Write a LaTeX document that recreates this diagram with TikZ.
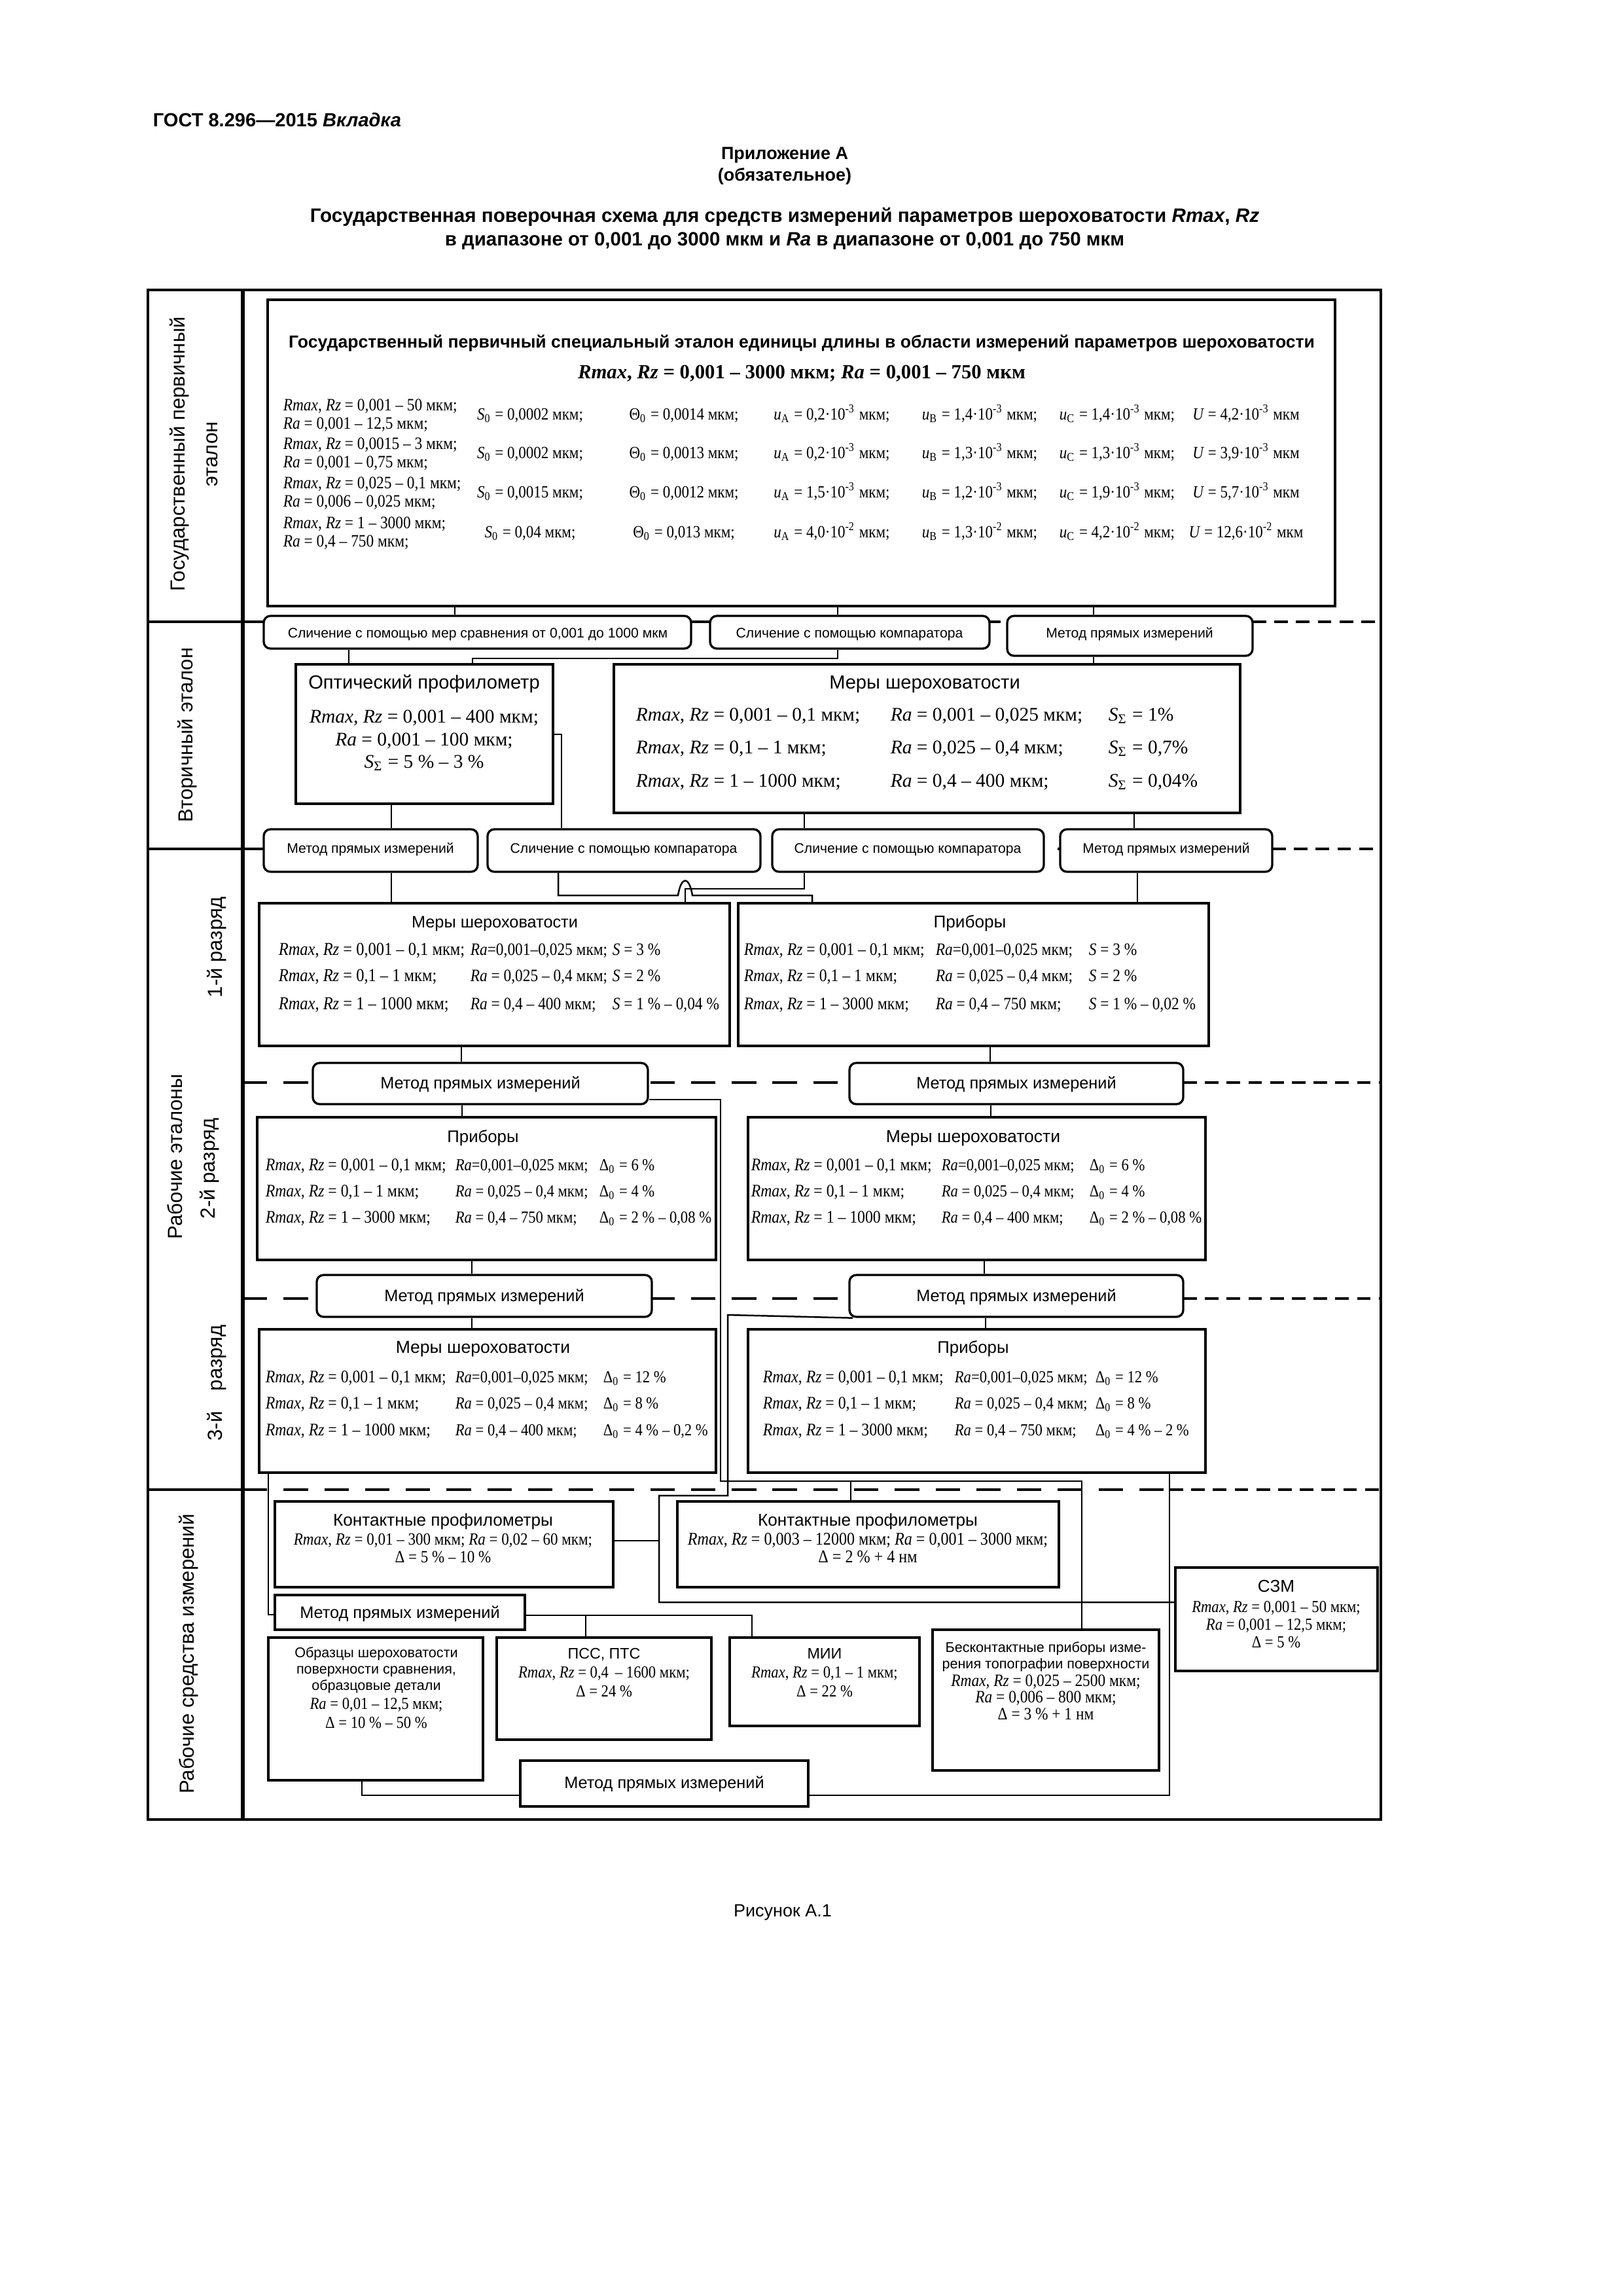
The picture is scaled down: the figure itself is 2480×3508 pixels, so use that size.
\documentclass[tikz,border=0pt]{standalone}
\usepackage{fontspec}
\setmainfont{Liberation Sans}
\newfontfamily\ser{Liberation Serif}
\newfontfamily\sern[FakeStretch=0.88]{Liberation Serif}
\usetikzlibrary{fit}
\newcommand\Rmz{\textit{Rmax}, \textit{Rz}}
\newcommand\Raa{\textit{Ra}}
\newcommand\Dz{Δ\textsubscript{0}}
\newcommand\SSig{\textit{S}\textsubscript{Σ}}
\newcommand\fs[1]{\fontsize{#1}{#1}\selectfont}
\begin{document}
\begin{tikzpicture}[x=0.2409pt, y=-0.2409pt,
  conn/.style={line width=0.6pt},
  frm/.style={line width=0.9pt},
  sbox/.style={draw, line width=1pt, fill=white, inner sep=0pt},
  rbox/.style={draw, line width=0.8pt, rounded corners=2.5pt, fill=white, inner sep=0pt},
  dline/.style={line width=0.8pt, dash pattern=on 9pt off 6pt},
  fdline/.style={line width=0.8pt, dash pattern=on 5pt off 3pt},
  tx/.style={inner sep=0pt, text height=0.72em, text depth=0.22em},
  txl/.style={tx, anchor=west},
  lbl/.style={tx, rotate=90, font=\fs{7.5}},
  rt/.style={tx, font=\fs{5.1}},
  mt/.style={tx, font=\fs{6.1}},
  sv/.style={tx, font={\sern\fs{6.3}}},
  ca/.style={txl, font={\sern\fs{6.7}}},
  cb/.style={txl, font={\sern\fs{6.4}}},
  cc/.style={txl, font={\sern\fs{6.5}}},
  cd/.style={txl, font={\sern\fs{6.2}}},
  sw/.style={tx, font={\sern\fs{6.2}}}]
\fill[white] (0,0) rectangle (2480,3508);
\useasboundingbox (0,0) rectangle (2480,3508);

% header
\node[txl, font=\fs{7}\bfseries] (hd) at (233,183) {ГОСТ 8.296—2015 \textit{Вкладка}};
\node[tx, font=\fs{6.5}\bfseries] (app) at (1199,233) {Приложение А};
\node[tx, font=\fs{6.5}\bfseries] (app2) at (1199,266) {(обязательное)};
\node[tx, font=\fs{7.15}\bfseries] (ttl1) at (1199,329) {Государственная поверочная схема для средств измерений параметров шероховатости \textit{Rmax}, \textit{Rz}};
\node[tx, font=\fs{7.1}\bfseries] (ttl2) at (1199,365) {в диапазоне от 0,001 до 3000 мкм и \textit{Ra} в диапазоне от 0,001 до 750 мкм};
\node[tx, font=\fs{6.5}] (fig) at (1196,2918) {Рисунок А.1};

% frame
\draw[frm] (226,443) rectangle (2110,2780);
\draw[line width=1.3pt] (371,443) -- (371,2780);
\draw[frm] (226,950) -- (371,950);
\draw[frm] (226,1297) -- (371,1297);
\draw[frm] (226,2276) -- (371,2276);
\draw[dline] (371,950) -- (1914,950);
\draw[fdline] (1914,950) -- (2110,950);
\draw[dline] (371,1297) -- (1944,1297);
\draw[fdline] (1944,1297) -- (2110,1297);
\draw[dline] (371,1654) -- (1808,1654);
\draw[fdline] (1808,1654) -- (2110,1654);
\draw[dline] (371,1984) -- (1808,1984);
\draw[fdline] (1808,1984) -- (2110,1984);
\draw[dline] (371,2276) -- (1787,2276);
\draw[fdline] (1787,2276) -- (2110,2276);

% side labels
\node[lbl] (lab1a) at (272,694) {Государственный первичный};
\node[lbl] (lab1b) at (322,694) {эталон};
\node[lbl] (lab2) at (284,1123) {Вторичный эталон};
\node[lbl] (lab3) at (268,1767) {Рабочие эталоны};
\node[lbl] (lab3a) at (329,1447) {1-й разряд};
\node[lbl] (lab3b) at (318,1785) {2-й разряд};
\node[lbl] (lab3c) at (329,2113) {3-й\quad разряд};
\node[lbl] (lab4) at (286,2527) {Рабочие средства измерений};

% ---------- boxes ----------
\node[sbox, fit={(409,458) (2040,926)}] (prim) {};
\node[rbox, fit={(403,941) (1056,991)}] (r1) {};
\node[rbox, fit={(1085,941) (1512,991)}] (r2) {};
\node[rbox, fit={(1539,941) (1914,1002)}] (r3) {};
\node[sbox, fit={(452,1015) (845,1228)}] (opt) {};
\node[sbox, fit={(938,1015) (1895,1242)}] (m2) {};
\node[rbox, fit={(403,1267) (730,1332)}] (ra) {};
\node[rbox, fit={(745,1267) (1162,1332)}] (rb) {};
\node[rbox, fit={(1180,1267) (1595,1332)}] (rc) {};
\node[rbox, fit={(1620,1267) (1944,1332)}] (rd) {};
\node[sbox, fit={(396,1380) (1115,1598)}] (m1) {};
\node[sbox, fit={(1128,1380) (1847,1598)}] (p1) {};
\node[rbox, fit={(478,1624) (990,1687)}] (l2) {};
\node[rbox, fit={(1298,1624) (1808,1687)}] (q2) {};
\node[sbox, fit={(393,1707) (1094,1925)}] (p2) {};
\node[sbox, fit={(1143,1707) (1842,1925)}] (mb) {};
\node[rbox, fit={(484,1948) (996,2012)}] (l3) {};
\node[rbox, fit={(1298,1948) (1808,2012)}] (q3) {};
\node[sbox, fit={(396,2031) (1094,2250)}] (m3) {};
\node[sbox, fit={(1143,2031) (1842,2250)}] (p3) {};
\node[sbox, fit={(420,2294) (937,2425)}] (k1) {};
\node[sbox, fit={(1035,2294) (1618,2425)}] (k2) {};
\node[sbox, fit={(420,2437) (802,2490)}] (wm) {};
\node[sbox, fit={(410,2502) (738,2720)}] (obr) {};
\node[sbox, fit={(759,2502) (1087,2658)}] (pss) {};
\node[sbox, fit={(1115,2502) (1405,2637)}] (mii) {};
\node[sbox, fit={(1425,2490) (1771,2705)}] (bes) {};
\node[sbox, fit={(795,2690) (1235,2760)}] (wm2) {};

% ---------- connectors ----------
\draw[conn] (695,0 |- prim.south) -- (695,0 |- r1.north);
\draw[conn] (1280,0 |- prim.south) -- (1280,0 |- r2.north);
\draw[conn] (1671,0 |- prim.south) -- (1671,0 |- r3.north);
\draw[conn] (533,0 |- r1.south) -- (533,0 |- opt.north);
\draw[conn] (1280,0 |- r2.south) -- (1280,1006) -- (722,1006) -- (722,0 |- opt.north);
\draw[conn] (1671,0 |- r3.south) -- (1671,0 |- m2.north);
\draw[conn] (598,0 |- opt.south) -- (598,0 |- ra.north);
\draw[conn] (opt.east |- 0,1122) -- (858,1122) -- (858,0 |- rb.north);
\draw[conn] (1229,0 |- m2.south) -- (1229,0 |- rc.north);
\draw[conn] (1733,0 |- m2.south) -- (1733,0 |- rd.north);
\draw[conn] (598,0 |- ra.south) -- (598,0 |- m1.north);
\draw[conn] (1229,0 |- rc.south) -- (1229,1358) -- (1047,1358) -- (1047,0 |- m1.north);
\draw[conn] (853,0 |- rb.south) -- (853,1368) -- (1036,1368) .. controls (1041,1338) and (1053,1338) .. (1058,1368) -- (1241,1368) -- (1241,0 |- p1.north);
\draw[conn] (1738,0 |- rd.south) -- (1738,0 |- p1.north);
\draw[conn] (705,0 |- m1.south) -- (705,0 |- l2.north);
\draw[conn] (1513,0 |- p1.south) -- (1513,0 |- q2.north);
\draw[conn] (706,0 |- l2.south) -- (706,0 |- p2.north);
\draw[conn] (1514,0 |- q2.south) -- (1514,0 |- mb.north);
\draw[conn] (721,0 |- p2.south) -- (721,0 |- l3.north);
\draw[conn] (1504,0 |- mb.south) -- (1504,0 |- q3.north);
\draw[conn] (721,0 |- l3.south) -- (721,0 |- m3.north);
\draw[conn] (1506,0 |- q3.south) -- (1506,0 |- p3.north);
\draw[conn] (l2.east |- 0,1680) -- (1101,1680) -- (1101,2263) -- (1653,2263) -- (1653,0 |- bes.north);
\draw[conn] (1300,2263) -- (1300,0 |- k2.north);
\draw[conn] (1303,0 |- q3.south) -- (1112,2009) -- (1112,2285) -- (1007,2285) -- (1007,2448) -- (1796,2448);
\draw[conn] (k1.east |- 0,2354) -- (1007,2354);
\draw[conn] (410,0 |- m3.south) -- (410,2467) -- (wm.west |- 0,2467);
\draw[conn] (wm.east |- 0,2468) -- (1149,2468) -- (1149,0 |- mii.north);
\draw[conn] (895,2468) -- (895,0 |- pss.north);
\draw[conn] (553,0 |- obr.south) -- (553,2743) -- (wm2.west |- 0,2743);
\draw[conn] (1787,0 |- p3.south) -- (1787,2743) -- (wm2.east |- 0,2743);
\node[sbox, fit={(1796,2395) (2105,2553)}] (szm) {};

% ---------- rounded-box texts ----------
\node[rt] (r1t) at (730,964) {Сличение с помощью мер сравнения от 0,001 до 1000 мкм};
\node[rt] (r2t) at (1298,964) {Сличение с помощью компаратора};
\node[rt] (r3t) at (1726,964) {Метод прямых измерений};
\node[rt] (rat) at (566,1293) {Метод прямых измерений};
\node[rt] (rbt) at (953,1293) {Сличение с помощью компаратора};
\node[rt] (rct) at (1387,1293) {Сличение с помощью компаратора};
\node[rt] (rdt) at (1782,1293) {Метод прямых измерений};
\node[mt] (l2t) at (734,1653) {Метод прямых измерений};
\node[mt] (q2t) at (1553,1653) {Метод прямых измерений};
\node[mt] (l3t) at (740,1978) {Метод прямых измерений};
\node[mt] (q3t) at (1553,1978) {Метод прямых измерений};
\node[mt] (wmt) at (611,2462) {Метод прямых измерений};
\node[mt] (wm2t) at (1015,2722) {Метод прямых измерений};

% ---------- texts: primary ----------
\node[tx, font=\fs{6.4}\bfseries] (primT) at (1225,521) {Государственный первичный специальный эталон единицы длины в области измерений параметров шероховатости};
\node[tx, font={\ser\fs{7.4}\bfseries}] (primR) at (1225,568) {\Rmz{} = 0,001 – 3000 мкм; \Raa{} = 0,001 – 750 мкм};
\node[txl, font={\sern\fs{6.4}}] (pl1) at (432,617) {\Rmz{} = 0,001 – 50 мкм;};
\node[txl, font={\sern\fs{6.4}}] (pl2) at (432,645) {\Raa{} = 0,001 – 12,5 мкм;};
\node[txl, font={\sern\fs{6.4}}] (pl3) at (432,676) {\Rmz{} = 0,0015 – 3 мкм;};
\node[txl, font={\sern\fs{6.4}}] (pl4) at (432,704) {\Raa{} = 0,001 – 0,75 мкм;};
\node[txl, font={\sern\fs{6.4}}] (pl5) at (432,736) {\Rmz{} = 0,025 – 0,1 мкм;};
\node[txl, font={\sern\fs{6.4}}] (pl6) at (432,764) {\Raa{} = 0,006 – 0,025 мкм;};
\node[txl, font={\sern\fs{6.4}}] (pl7) at (432,797) {\Rmz{} = 1 – 3000 мкм;};
\node[txl, font={\sern\fs{6.4}}] (pl8) at (432,825) {\Raa{} = 0,4 – 750 мкм;};
% row 1
\node[sv] (pa1) at (810,631) {\textit{S}\textsubscript{0} = 0,0002 мкм;};
\node[sv] (pb1) at (1045,631) {Θ\textsubscript{0} = 0,0014 мкм;};
\node[sv] (pc1) at (1271,631) {\textit{u}\textsubscript{A} = 0,2·10\textsuperscript{-3} мкм;};
\node[sv] (pd1) at (1497,631) {\textit{u}\textsubscript{B} = 1,4·10\textsuperscript{-3} мкм;};
\node[sv] (pe1) at (1707,631) {\textit{u}\textsubscript{C} = 1,4·10\textsuperscript{-3} мкм;};
\node[sv] (pf1) at (1904,631) {\textit{U} = 4,2·10\textsuperscript{-3} мкм};
% row 2
\node[sv] (pa2) at (810,690) {\textit{S}\textsubscript{0} = 0,0002 мкм;};
\node[sv] (pb2) at (1045,690) {Θ\textsubscript{0} = 0,0013 мкм;};
\node[sv] (pc2) at (1271,690) {\textit{u}\textsubscript{A} = 0,2·10\textsuperscript{-3} мкм;};
\node[sv] (pd2) at (1497,690) {\textit{u}\textsubscript{B} = 1,3·10\textsuperscript{-3} мкм;};
\node[sv] (pe2) at (1707,690) {\textit{u}\textsubscript{C} = 1,3·10\textsuperscript{-3} мкм;};
\node[sv] (pf2) at (1904,690) {\textit{U} = 3,9·10\textsuperscript{-3} мкм};
% row 3
\node[sv] (pa3) at (810,750) {\textit{S}\textsubscript{0} = 0,0015 мкм;};
\node[sv] (pb3) at (1045,750) {Θ\textsubscript{0} = 0,0012 мкм;};
\node[sv] (pc3) at (1271,750) {\textit{u}\textsubscript{A} = 1,5·10\textsuperscript{-3} мкм;};
\node[sv] (pd3) at (1497,750) {\textit{u}\textsubscript{B} = 1,2·10\textsuperscript{-3} мкм;};
\node[sv] (pe3) at (1707,750) {\textit{u}\textsubscript{C} = 1,9·10\textsuperscript{-3} мкм;};
\node[sv] (pf3) at (1904,750) {\textit{U} = 5,7·10\textsuperscript{-3} мкм};
% row 4
\node[sv] (pa4) at (810,811) {\textit{S}\textsubscript{0} = 0,04 мкм;};
\node[sv] (pb4) at (1045,811) {Θ\textsubscript{0} = 0,013 мкм;};
\node[sv] (pc4) at (1271,811) {\textit{u}\textsubscript{A} = 4,0·10\textsuperscript{-2} мкм;};
\node[sv] (pd4) at (1497,811) {\textit{u}\textsubscript{B} = 1,3·10\textsuperscript{-2} мкм;};
\node[sv] (pe4) at (1707,811) {\textit{u}\textsubscript{C} = 4,2·10\textsuperscript{-2} мкм;};
\node[sv] (pf4) at (1904,811) {\textit{U} = 12,6·10\textsuperscript{-2} мкм};

% ---------- secondary ----------
\node[tx, font=\fs{7}] (optT) at (648,1042) {Оптический профилометр};
\node[tx, font={\ser\fs{7.1}}] (opt1) at (648,1094) {\Rmz{} = 0,001 – 400 мкм;};
\node[tx, font={\ser\fs{7.1}}] (opt2) at (648,1129) {\Raa{} = 0,001 – 100 мкм;};
\node[tx, font={\ser\fs{7.1}}] (opt3) at (648,1163) {\SSig{} = 5 \% – 3 \%};
\node[tx, font=\fs{7}] (m2T) at (1413,1042) {Меры шероховатости};
\node[txl, font={\ser\fs{7.1}}] (m2a1) at (971,1091) {\Rmz{} = 0,001 – 0,1 мкм;};
\node[txl, font={\ser\fs{7.1}}] (m2b1) at (1360,1091) {\Raa{} = 0,001 – 0,025 мкм;};
\node[txl, font={\ser\fs{7.1}}] (m2c1) at (1693,1091) {\SSig{} = 1\%};
\node[txl, font={\ser\fs{7.1}}] (m2a2) at (971,1141) {\Rmz{} = 0,1 – 1 мкм;};
\node[txl, font={\ser\fs{7.1}}] (m2b2) at (1360,1141) {\Raa{} = 0,025 – 0,4 мкм;};
\node[txl, font={\ser\fs{7.1}}] (m2c2) at (1693,1141) {\SSig{} = 0,7\%};
\node[txl, font={\ser\fs{7.1}}] (m2a3) at (971,1192) {\Rmz{} = 1 – 1000 мкм;};
\node[txl, font={\ser\fs{7.1}}] (m2b3) at (1360,1192) {\Raa{} = 0,4 – 400 мкм;};
\node[txl, font={\ser\fs{7.1}}] (m2c3) at (1693,1192) {\SSig{} = 0,04\%};

% ---------- 1st category ----------
\node[tx, font=\fs{6.1}] (m1T) at (756,1407) {Меры шероховатости};
\node[ca] (m1a1) at (425,1449) {\Rmz{} = 0,001 – 0,1 мкм;};
\node[cb] (m1b1) at (718,1449) {\Raa{}=0,001–0,025 мкм;};
\node[cb] (m1c1) at (935,1449) {\textit{S} = 3 \%};
\node[ca] (m1a2) at (425,1489) {\Rmz{} = 0,1 – 1 мкм;};
\node[cb] (m1b2) at (718,1489) {\Raa{} = 0,025 – 0,4 мкм;};
\node[cb] (m1c2) at (935,1489) {\textit{S} = 2 \%};
\node[ca] (m1a3) at (425,1532) {\Rmz{} = 1 – 1000 мкм;};
\node[cb] (m1b3) at (718,1532) {\Raa{} = 0,4 – 400 мкм;};
\node[cb] (m1c3) at (935,1532) {\textit{S} = 1 \% – 0,04 \%};
\node[tx, font=\fs{6.3}] (p1T) at (1482,1407) {Приборы};
\node[cc] (p1a1) at (1136,1449) {\Rmz{} = 0,001 – 0,1 мкм;};
\node[cb] (p1b1) at (1429,1449) {\Raa{}=0,001–0,025 мкм;};
\node[cb] (p1c1) at (1663,1449) {\textit{S} = 3 \%};
\node[cc] (p1a2) at (1136,1489) {\Rmz{} = 0,1 – 1 мкм;};
\node[cb] (p1b2) at (1429,1489) {\Raa{} = 0,025 – 0,4 мкм;};
\node[cb] (p1c2) at (1663,1489) {\textit{S} = 2 \%};
\node[cc] (p1a3) at (1136,1532) {\Rmz{} = 1 – 3000 мкм;};
\node[cb] (p1b3) at (1429,1532) {\Raa{} = 0,4 – 750 мкм;};
\node[cb] (p1c3) at (1663,1532) {\textit{S} = 1 \% – 0,02 \%};

% ---------- 2nd category ----------
\node[tx, font=\fs{6.2}] (p2T) at (738,1735) {Приборы};
\node[cc] (p2a1) at (405,1778) {\Rmz{} = 0,001 – 0,1 мкм;};
\node[cd] (p2b1) at (695,1778) {\Raa{}=0,001–0,025 мкм;};
\node[cd] (p2c1) at (915,1778) {\Dz{} = 6 \%};
\node[cc] (p2a2) at (405,1818) {\Rmz{} = 0,1 – 1 мкм;};
\node[cd] (p2b2) at (695,1818) {\Raa{} = 0,025 – 0,4 мкм;};
\node[cd] (p2c2) at (915,1818) {\Dz{} = 4 \%};
\node[cc] (p2a3) at (405,1858) {\Rmz{} = 1 – 3000 мкм;};
\node[cd] (p2b3) at (695,1858) {\Raa{} = 0,4 – 750 мкм;};
\node[cd] (p2c3) at (915,1858) {\Dz{} = 2 \% – 0,08 \%};
\node[tx, font=\fs{6.4}] (mbT) at (1487,1735) {Меры шероховатости};
\node[cc] (mba1) at (1147,1778) {\Rmz{} = 0,001 – 0,1 мкм;};
\node[cd] (mbb1) at (1438,1778) {\Raa{}=0,001–0,025 мкм;};
\node[cd] (mbc1) at (1664,1778) {\Dz{} = 6 \%};
\node[cc] (mba2) at (1147,1818) {\Rmz{} = 0,1 – 1 мкм;};
\node[cd] (mbb2) at (1438,1818) {\Raa{} = 0,025 – 0,4 мкм;};
\node[cd] (mbc2) at (1664,1818) {\Dz{} = 4 \%};
\node[cc] (mba3) at (1147,1858) {\Rmz{} = 1 – 1000 мкм;};
\node[cd] (mbb3) at (1438,1858) {\Raa{} = 0,4 – 400 мкм;};
\node[cd] (mbc3) at (1664,1858) {\Dz{} = 2 \% – 0,08 \%};

% ---------- 3rd category ----------
\node[tx, font=\fs{6.4}] (m3T) at (738,2057) {Меры шероховатости};
\node[cc] (m3a1) at (405,2102) {\Rmz{} = 0,001 – 0,1 мкм;};
\node[cd] (m3b1) at (695,2102) {\Raa{}=0,001–0,025 мкм;};
\node[cd] (m3c1) at (921,2102) {\Dz{} = 12 \%};
\node[cc] (m3a2) at (405,2142) {\Rmz{} = 0,1 – 1 мкм;};
\node[cd] (m3b2) at (695,2142) {\Raa{} = 0,025 – 0,4 мкм;};
\node[cd] (m3c2) at (921,2142) {\Dz{} = 8 \%};
\node[cc] (m3a3) at (405,2183) {\Rmz{} = 1 – 1000 мкм;};
\node[cd] (m3b3) at (695,2183) {\Raa{} = 0,4 – 400 мкм;};
\node[cd] (m3c3) at (921,2183) {\Dz{} = 4 \% – 0,2 \%};
\node[tx, font=\fs{6.2}] (p3T) at (1487,2057) {Приборы};
\node[cc] (p3a1) at (1165,2102) {\Rmz{} = 0,001 – 0,1 мкм;};
\node[cd] (p3b1) at (1458,2102) {\Raa{}=0,001–0,025 мкм;};
\node[cd] (p3c1) at (1673,2102) {\Dz{} = 12 \%};
\node[cc] (p3a2) at (1165,2142) {\Rmz{} = 0,1 – 1 мкм;};
\node[cd] (p3b2) at (1458,2142) {\Raa{} = 0,025 – 0,4 мкм;};
\node[cd] (p3c2) at (1673,2142) {\Dz{} = 8 \%};
\node[cc] (p3a3) at (1165,2183) {\Rmz{} = 1 – 3000 мкм;};
\node[cd] (p3b3) at (1458,2183) {\Raa{} = 0,4 – 750 мкм;};
\node[cd] (p3c3) at (1673,2183) {\Dz{} = 4 \% – 2 \%};

% ---------- working means ----------
\node[tx, font=\fs{6.3}] (k1T) at (677,2321) {Контактные профилометры};
\node[tx, font={\sern\fs{6.3}}] (k1a) at (677,2350) {\Rmz{} = 0,01 – 300 мкм; \Raa{} = 0,02 – 60 мкм;};
\node[tx, font={\sern\fs{6.3}}] (k1b) at (677,2377) {Δ = 5 \% – 10 \%};
\node[tx, font=\fs{6.3}] (k2T) at (1326,2321) {Контактные профилометры};
\node[tx, font={\sern\fs{6.6}}] (k2a) at (1326,2350) {\Rmz{} = 0,003 – 12000 мкм; \Raa{} = 0,001 – 3000 мкм;};
\node[tx, font={\sern\fs{6.6}}] (k2b) at (1326,2377) {Δ = 2 \% + 4 нм};
\node[tx, font=\fs{6.3}] (szT) at (1950,2422) {СЗМ};
\node[sw] (sz1) at (1950,2453) {\Rmz{} = 0,001 – 50 мкм;};
\node[sw] (sz2) at (1950,2480) {\Raa{} = 0,001 – 12,5 мкм;};
\node[sw] (sz3) at (1950,2507) {Δ = 5 \%};
\node[tx, font=\fs{5.2}] (ob1) at (575,2522) {Образцы шероховатости};
\node[tx, font=\fs{5.2}] (ob2) at (575,2547) {поверхности сравнения,};
\node[tx, font=\fs{5.2}] (ob3) at (575,2572) {образцовые детали};
\node[sw] (ob4) at (575,2601) {\Raa{} = 0,01 – 12,5 мкм;};
\node[sw] (ob5) at (575,2630) {Δ = 10 \% – 50 \%};
\node[tx, font=\fs{5.6}] (ps1) at (923,2524) {ПСС, ПТС};
\node[sw] (ps2) at (923,2553) {\Rmz{} = 0,4 \,– 1600 мкм;};
\node[sw] (ps3) at (923,2582) {Δ = 24 \%};
\node[tx, font=\fs{5.6}] (mi1) at (1260,2524) {МИИ};
\node[sw] (mi2) at (1260,2553) {\Rmz{} = 0,1 – 1 мкм;};
\node[sw] (mi3) at (1260,2582) {Δ = 22 \%};
\node[tx, font=\fs{5.2}] (be1) at (1598,2514) {Бесконтактные приборы изме-};
\node[tx, font=\fs{5.2}] (be2) at (1598,2539) {рения топографии поверхности};
\node[tx, font={\sern\fs{6.4}}] (be3) at (1598,2566) {\Rmz{} = 0,025 – 2500 мкм;};
\node[tx, font={\sern\fs{6.4}}] (be4) at (1598,2591) {\Raa{} = 0,006 – 800 мкм;};
\node[tx, font={\sern\fs{6.4}}] (be5) at (1598,2617) {Δ = 3 \% + 1 нм};
\end{tikzpicture}
\end{document}
